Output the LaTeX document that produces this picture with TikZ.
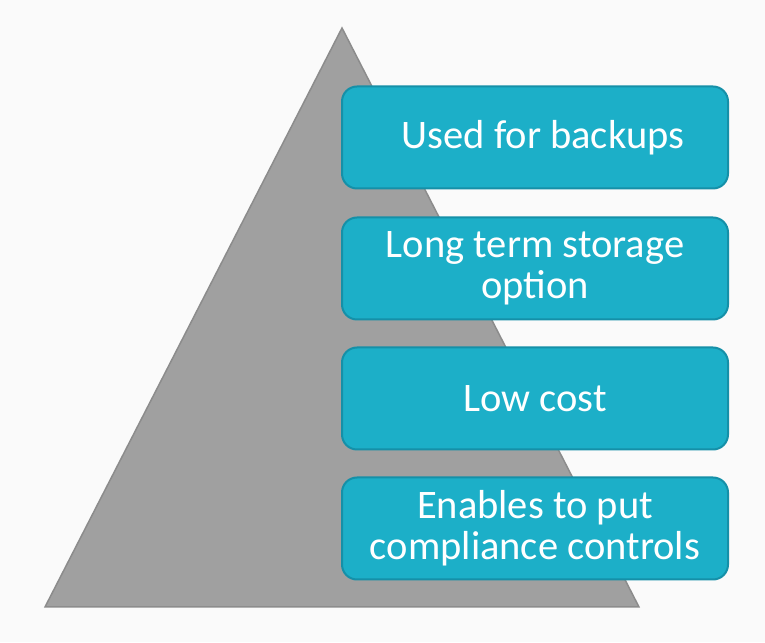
\documentclass[tikz,border=0pt]{standalone}
\usepackage{fontspec}
\setmainfont{Carlito}
\usetikzlibrary{positioning}
\definecolor{bgcol}{HTML}{FAFAFA}
\definecolor{pyrfill}{HTML}{A0A0A0}
\definecolor{pyredge}{HTML}{8C8C8C}
\definecolor{boxfill}{HTML}{1CAFC8}
\definecolor{boxedge}{HTML}{1590A8}
\tikzset{
  featbox/.style={draw=boxedge, fill=boxfill, line width=2pt, rounded corners=15pt,
    minimum width=386pt, minimum height=102pt, inner sep=0pt, align=center,
    text=white, font=\fontsize{40.5}{41}\selectfont}
}
\begin{document}
\begin{tikzpicture}[x=1pt, y=1pt]
  % canvas, same size as the reference
  \fill[bgcol] (0, 0) rectangle (765, 642);
  \useasboundingbox (0, 0) rectangle (765, 642);

  % grey pyramid
  \coordinate (apex) at (342, 614);
  \coordinate (baseL) at (45, 35);
  \coordinate (baseR) at (639, 35);
  \draw[pyredge, fill=pyrfill, line width=1.5pt, line join=miter] (apex) -- (baseR) -- (baseL) -- cycle;

  % feature boxes
  \node[featbox] (backups) at (535, 504.5) {\hspace*{16pt}Used for backups};
  \node[featbox, below=27pt of backups] (storage) {Long term storage\\option};
  \node[featbox, below=26pt of storage] (cost) {Low cost};
  \node[featbox, below=26pt of cost] (compliance) {Enables to put\\compliance controls};
\end{tikzpicture}
\end{document}
